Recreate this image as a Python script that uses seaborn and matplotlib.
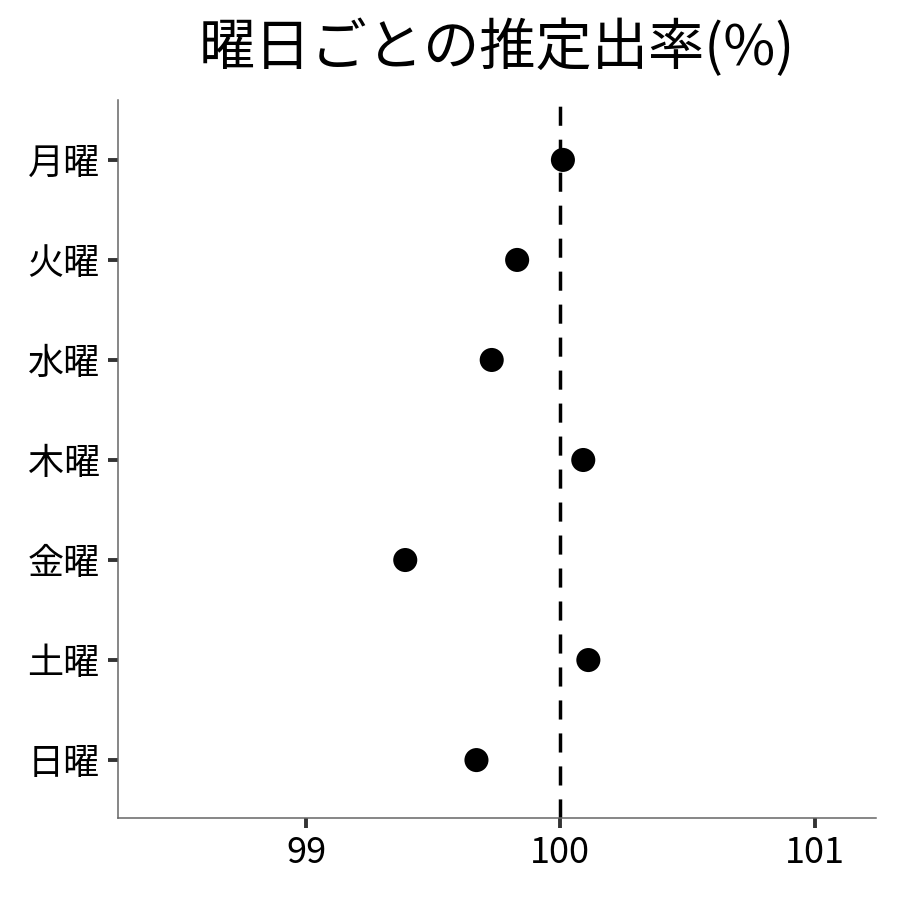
import pandas as pd
import matplotlib
matplotlib.use("Agg")
import matplotlib.pyplot as plt
import seaborn as sns

# Data
days = ["月曜", "火曜", "水曜", "木曜", "金曜", "土曜", "日曜"]
rates = [100.01, 99.83, 99.73, 100.09, 99.39, 100.11, 99.67]

df = pd.DataFrame({"day": days, "rate": rates})

sns.set_style("white")
plt.rcParams['font.family'] = ['Noto Sans CJK JP', 'DejaVu Sans']
plt.rcParams['text.color'] = 'black'

fig = plt.figure(figsize=(9, 9), dpi=100)
ax = fig.add_axes([0.131, 0.091, 0.842, 0.798])

ax.axvline(100, color="black", linestyle=(0, (5.5, 4)), linewidth=2.5, zorder=1)
sns.scatterplot(data=df, x="rate", y="day", color="black", s=300,
                edgecolor="none", ax=ax, zorder=2)

ax.set_xlim(98.26, 101.24)
ax.set_ylim(6.58, -0.6)
ax.set_xticks([99, 100, 101])
ax.set_xlabel("")
ax.set_ylabel("")
ax.set_title("曜日ごとの推定出率(%)", fontsize=40.5, pad=25, color="black")

for side in ["top", "right"]:
    ax.spines[side].set_visible(False)
for side in ["left", "bottom"]:
    ax.spines[side].set_color("#666666")
    ax.spines[side].set_linewidth(1.1)

ax.tick_params(axis="both", which="major", bottom=True, left=True,
               length=7, width=2.8, color="#333333", labelcolor="black")
ax.tick_params(axis="y", labelsize=26, pad=6)
ax.tick_params(axis="x", labelsize=26, pad=5)

plt.savefig("out.png", dpi=100)
